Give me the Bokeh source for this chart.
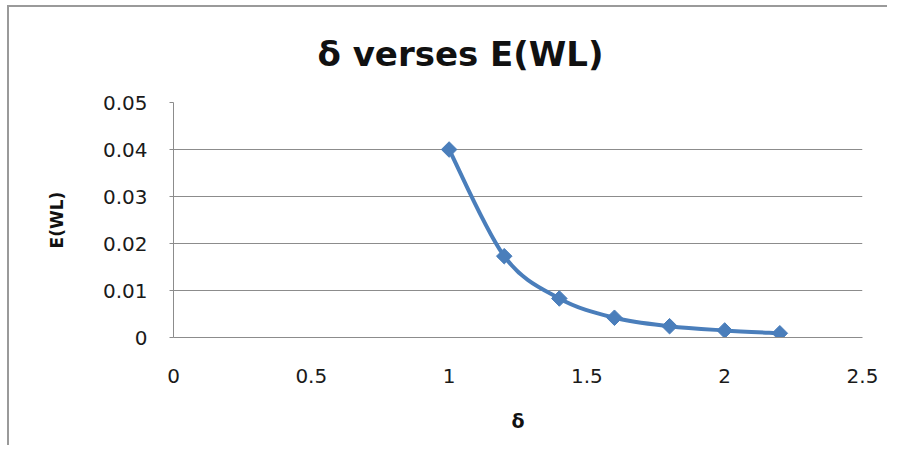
from bokeh.plotting import figure
from bokeh.models import ColumnDataSource, FixedTicker, Range1d
from bokeh.embed import file_html
from bokeh.resources import INLINE

# ---- data ----
delta = [1.0, 1.2, 1.4, 1.6, 1.8, 2.0, 2.2]
e_wl = [0.04, 0.0173, 0.0083, 0.0042, 0.0024, 0.0015, 0.0009]

x_ticks = [0, 0.5, 1, 1.5, 2, 2.5]
x_tick_labels = ["0", "0.5", "1", "1.5", "2", "2.5"]
y_ticks = [0, 0.01, 0.02, 0.03, 0.04, 0.05]
y_tick_labels = ["0", "0.01", "0.02", "0.03", "0.04", "0.05"]

title_text = "δ verses E(WL)"
x_label = "δ"
y_label = "E(WL)"

BLUE = "#4a7ebb"
GRID = "#8c8c8c"
FONT = "DejaVu Sans"

# smoothed (Excel-like Catmull-Rom) bezier segments built from the data points
n = len(delta)
x0, y0, x1, y1, cx0, cy0, cx1, cy1 = [], [], [], [], [], [], [], []
for i in range(n - 1):
    pa = i - 1 if i > 0 else i
    pd = i + 2 if i + 2 < n else i + 1
    x0.append(delta[i]); y0.append(e_wl[i])
    x1.append(delta[i + 1]); y1.append(e_wl[i + 1])
    cx0.append(delta[i] + (delta[i + 1] - delta[pa]) / 6.0)
    cy0.append(e_wl[i] + (e_wl[i + 1] - e_wl[pa]) / 6.0)
    cx1.append(delta[i + 1] - (delta[pd] - delta[i]) / 6.0)
    cy1.append(e_wl[i + 1] - (e_wl[pd] - e_wl[i]) / 6.0)

seg = ColumnDataSource(dict(x0=x0, y0=y0, x1=x1, y1=y1, cx0=cx0, cy0=cy0, cx1=cx1, cy1=cy1))
pts = ColumnDataSource(dict(x=delta, y=e_wl))

p = figure(width=880, height=440, output_backend="svg", toolbar_location=None,
           x_range=Range1d(0, 2.5), y_range=Range1d(0, 0.05),
           min_border_left=164, min_border_right=27, min_border_top=95, min_border_bottom=110)
p.styles = {"border-left": "2px solid #9a9a9a", "border-top": "2px solid #9a9a9a",
            "margin-left": "7px", "margin-top": "5px"}
p.background_fill_color = "white"
p.border_fill_color = "white"
p.outline_line_color = None

# title
p.title.text = title_text
p.title.text_font = FONT
p.title.text_font_style = "bold"
p.title.text_font_size = "34px"
p.title.text_color = "#111111"
p.title.align = "left"
p.title.offset = 144
p.title.vertical_align = "top"
p.title.standoff = 53

p.bezier(x0="x0", y0="y0", x1="x1", y1="y1", cx0="cx0", cy0="cy0", cx1="cx1", cy1="cy1",
         source=seg, line_color=BLUE, line_width=4)
p.scatter("x", "y", source=pts, marker="square", size=11, angle=0.785398,
          fill_color=BLUE, line_color=BLUE)

# axes
p.xaxis.ticker = FixedTicker(ticks=x_ticks)
p.xaxis.major_label_overrides = {t: l for t, l in zip(x_ticks, x_tick_labels)}
p.yaxis.ticker = FixedTicker(ticks=y_ticks)
p.yaxis.major_label_overrides = {t: l for t, l in zip(y_ticks, y_tick_labels)}
p.xaxis.minor_tick_line_color = None
p.yaxis.minor_tick_line_color = None

for ax in (p.xaxis, p.yaxis):
    ax.axis_line_color = GRID
    ax.axis_line_width = 1
    ax.major_tick_line_color = GRID
    ax.major_label_text_font = FONT
    ax.major_label_text_font_size = "20px"
    ax.major_label_text_color = "#1a1a1a"
    ax.axis_label_text_font = FONT
    ax.axis_label_text_font_style = "bold"
    ax.axis_label_text_color = "#111111"

p.xaxis.major_tick_in = 0
p.xaxis.major_tick_out = 0
p.xaxis.major_label_standoff = 31
p.xaxis.axis_label = x_label
p.xaxis.axis_label_text_font_size = "19px"
p.xaxis.axis_label_standoff = 24

p.yaxis.major_tick_in = 0
p.yaxis.major_tick_out = 4
p.yaxis.major_label_standoff = 22
p.yaxis.axis_label = y_label
p.yaxis.axis_label_text_font_size = "17px"
p.yaxis.axis_label_standoff = 33

p.xgrid.grid_line_color = None
p.ygrid.grid_line_color = GRID
p.ygrid.grid_line_width = 1

open("out.html", "w").write(file_html(p, INLINE))
